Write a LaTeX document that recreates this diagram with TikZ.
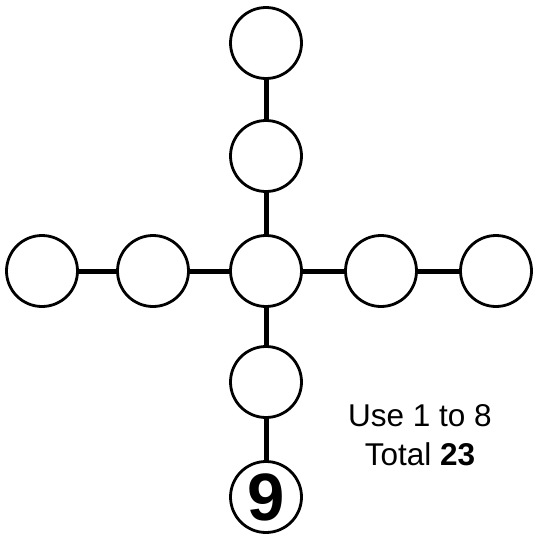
\documentclass[tikz,border=0pt]{standalone}
\usepackage{fontspec}
\setmainfont{Liberation Sans}
\begin{document}
\begin{tikzpicture}[x=1pt, y=-1pt,
        spot/.style={circle, draw=black, fill=white, line width=2.8pt, minimum size=71pt, inner sep=0pt},
        link/.style={black, line width=5pt}]
            \useasboundingbox (0,0) rectangle (534,536);

            % vertical arm
            \node[spot] (top) at (266,43) {};
            \node[spot] (up) at (266,156) {};
            \node[spot] (mid) at (266,271) {};
            \node[spot] (down) at (266,382) {};
            \node[spot, font=\fontsize{67}{67}\selectfont\bfseries] (nine) at (266,497) {9};

            % horizontal arm
            \node[spot] (farleft) at (42,271) {};
            \node[spot] (left) at (153,271) {};
            \node[spot] (right) at (381,271) {};
            \node[spot] (farright) at (496,271) {};

            \draw[link] (top) -- (up);
            \draw[link] (up) -- (mid);
            \draw[link] (mid) -- (down);
            \draw[link] (down) -- (nine);
            \draw[link] (farleft) -- (left);
            \draw[link] (left) -- (mid);
            \draw[link] (mid) -- (right);
            \draw[link] (right) -- (farright);

            \node[align=center, font=\fontsize{31.5}{39}\selectfont] (rule) at (420,435) {Use 1 to 8\\Total \textbf{23}};
        \end{tikzpicture}
\end{document}
